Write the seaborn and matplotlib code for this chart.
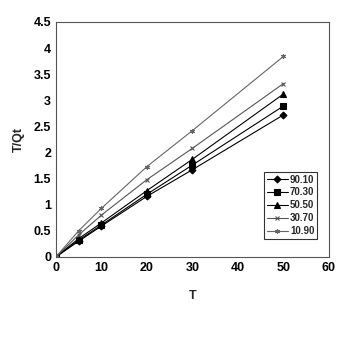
import pandas as pd
import matplotlib
matplotlib.use('Agg')
import matplotlib.pyplot as plt
import seaborn as sns

# data
t = [0, 5, 10, 20, 30, 50]
series = ['90.10', '70.30', '50.50', '30.70', '10.90']
s_9010 = [0, 0.30, 0.59, 1.16, 1.67, 2.72]
s_7030 = [0, 0.32, 0.61, 1.20, 1.76, 2.89]
s_5050 = [0, 0.35, 0.65, 1.27, 1.87, 3.12]
s_3070 = [0, 0.42, 0.80, 1.48, 2.08, 3.32]
s_1090 = [0, 0.50, 0.93, 1.73, 2.42, 3.84]

vals = [s_9010, s_7030, s_5050, s_3070, s_1090]
rows = []
for name, v in zip(series, vals):
    for x, y in zip(t, v):
        rows.append({'T': x, 'T/Qt': y, 'serie': name})
df = pd.DataFrame(rows)

sns.set_style('white')
plt.rcParams['font.family'] = ['Liberation Sans', 'DejaVu Sans']
plt.rcParams['font.weight'] = 'bold'

fig = plt.figure(figsize=(3.56, 3.38), dpi=100)
ax = fig.add_axes([0.157, 0.240, 0.767, 0.695])

markers = {'90.10': 'D', '70.30': 's', '50.50': '^', '30.70': 'x', '10.90': (6, 2, 0)}
colors = {'90.10': 'black', '70.30': 'black', '50.50': 'black', '30.70': '#555555', '10.90': '#666666'}
msize = {'90.10': 3.5, '70.30': 4.5, '50.50': 5, '30.70': 3, '10.90': 3.5}

for name in series:
    sub = df[df['serie'] == name]
    sns.lineplot(x='T', y='T/Qt', data=sub, ax=ax, color=colors[name], marker=markers[name],
                 markersize=msize[name], markeredgewidth=0.8, markeredgecolor=colors[name],
                 linewidth=0.8, label=name)

ax.set_xlim(0, 60)
ax.set_ylim(0, 4.5)
ax.set_xticks(range(0, 61, 10))
ax.set_yticks([0, 0.5, 1, 1.5, 2, 2.5, 3, 3.5, 4, 4.5])
ax.set_yticklabels(['0', '0.5', '1', '1.5', '2', '2.5', '3', '3.5', '4', '4.5'])
ax.tick_params(direction='in', length=3, width=0.8, labelsize=9, colors='black')
ax.set_xlabel('T', fontsize=9, fontweight='bold', labelpad=12)
ax.set_ylabel('T/Qt', fontsize=9, fontweight='bold', labelpad=6)
for sp in ax.spines.values():
    sp.set_color('#555555')
    sp.set_linewidth(0.8)

leg = ax.legend(loc='lower right', bbox_to_anchor=(0.975, 0.055), fontsize=7, frameon=True,
                fancybox=False, edgecolor='black', handlelength=2.2, handletextpad=0.2,
                labelspacing=0.3, borderpad=0.3)
leg.get_frame().set_linewidth(0.8)

fig.savefig('out.png', dpi=100)
